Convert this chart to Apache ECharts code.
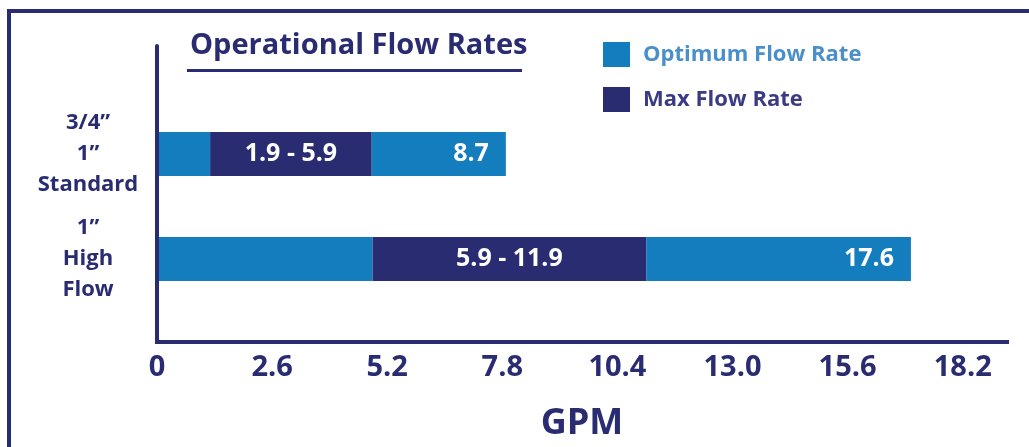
<!DOCTYPE html>
<html>
<head>
<meta charset="utf-8">
<title>Operational Flow Rates</title>
<script src="https://cdn.jsdelivr.net/npm/echarts@6.0.0/dist/echarts.min.js"></script>
<style>
  html, body { margin: 0; padding: 0; background: #fff; }
  #main { width: 1029px; height: 447px; }
</style>
</head>
<body>
<div id="main"></div>
<script>
// data (segment lengths in GPM, stacked)
const categories = ['3/4\u201d\n1\u201d\nStandard', '1\u201d\nHigh\nFlow'];
const optimumLow = [1.2, 4.87];
const maxRange = [3.65, 6.18];
const optimumHigh = [3.03, 5.98];
const rangeLabels = ['1.9 - 5.9', '5.9 - 11.9'];
const topLabels = ['8.7', '17.6'];
const tickLabels = ['0', '2.6', '5.2', '7.8', '10.4', '13.0', '15.6', '18.2'];

const NAVY = '#2a2c72';
const BLUE = '#147dbd';
const FONT = 'Open Sans';
const W = 'bold';

const chart = echarts.init(document.getElementById('main'));

chart.setOption({
  backgroundColor: '#fff',
  animation: false,
  textStyle: { fontFamily: FONT },
  title: {
    text: 'Operational Flow Rates',
    left: 185,
    top: 26,
    textStyle: { color: NAVY, fontSize: 29, fontWeight: W, fontFamily: FONT }
  },
  legend: {
    orient: 'vertical',
    left: 598,
    top: 37,
    itemWidth: 27,
    itemHeight: 25,
    itemGap: 20,
    icon: 'rect',
    selectedMode: false,
    textStyle: { fontSize: 22, fontWeight: W, fontFamily: FONT, padding: [0, 0, 0, 8] },
    data: [
      { name: 'Optimum Flow Rate', textStyle: { color: '#4a8fca' } },
      { name: 'Max Flow Rate', textStyle: { color: '#3a3b82' } }
    ]
  },
  graphic: [
    // frame on top / left
    { type: 'rect', shape: { x: 7, y: 9, width: 1022, height: 4 }, style: { fill: NAVY } },
    { type: 'rect', shape: { x: 7, y: 9, width: 4, height: 438 }, style: { fill: NAVY } },
    // title underline
    { type: 'rect', shape: { x: 187, y: 69, width: 335, height: 3 }, style: { fill: NAVY } }
  ],
  grid: [
    { left: 157, right: 22, top: 46, bottom: 104 },
    { left: 157, right: 22, top: 101.5, height: 210 }
  ],
  xAxis: [
    {
      type: 'value', gridIndex: 0, min: 0, max: 19.2, interval: 2.6,
      axisLine: { show: true, lineStyle: { color: NAVY, width: 4, cap: 'square' } },
      axisTick: { show: false },
      splitLine: { show: false },
      axisLabel: {
        color: NAVY, fontSize: 29, fontWeight: W, fontFamily: FONT, margin: 11,
        formatter: function (v) {
          const i = Math.round(v / 2.6);
          return Math.abs(v - i * 2.6) < 1e-6 ? (tickLabels[i] || '') : '';
        }
      },
      name: 'GPM',
      nameLocation: 'middle',
      nameGap: 64,
      nameTextStyle: { color: NAVY, fontSize: 36, fontWeight: W, fontFamily: FONT }
    },
    {
      type: 'value', gridIndex: 1, min: 0, max: 19.2, show: false
    }
  ],
  yAxis: [
    {
      type: 'value', gridIndex: 0, min: 0, max: 1, z: 5,
      axisLine: { show: true, lineStyle: { color: NAVY, width: 4 } },
      axisTick: { show: false },
      axisLabel: { show: false },
      splitLine: { show: false }
    },
    {
      type: 'category', gridIndex: 1, inverse: true, data: categories,
      axisLine: { show: false },
      axisTick: { show: false },
      axisLabel: {
        color: NAVY, fontSize: 22, fontWeight: W, fontFamily: FONT,
        align: 'center', margin: 69, lineHeight: 31
      }
    }
  ],
  series: [
    {
      name: 'Optimum Flow Rate', type: 'bar', stack: 'flow', barWidth: 44,
      xAxisIndex: 1, yAxisIndex: 1,
      itemStyle: { color: BLUE },
      data: optimumLow
    },
    {
      name: 'Max Flow Rate', type: 'bar', stack: 'flow', barWidth: 44,
      xAxisIndex: 1, yAxisIndex: 1,
      itemStyle: { color: NAVY },
      label: {
        show: true, position: 'inside', color: '#fff', fontSize: 25, fontWeight: W, fontFamily: FONT,
        formatter: function (p) { return rangeLabels[p.dataIndex]; }
      },
      data: maxRange
    },
    {
      name: 'Optimum Flow Rate', type: 'bar', stack: 'flow', barWidth: 44,
      xAxisIndex: 1, yAxisIndex: 1,
      itemStyle: { color: BLUE },
      label: {
        show: true, position: 'insideRight', distance: 17, color: '#fff', fontSize: 25, fontWeight: W, fontFamily: FONT,
        formatter: function (p) { return topLabels[p.dataIndex]; }
      },
      data: optimumHigh
    }
  ]
});
</script>
</body>
</html>
